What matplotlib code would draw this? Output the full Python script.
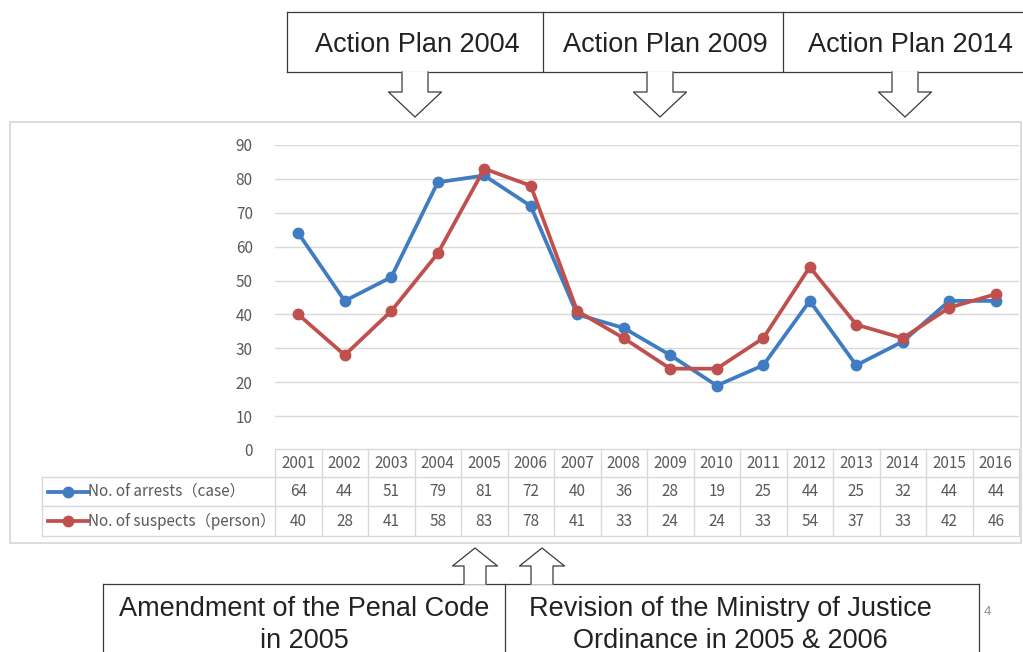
import matplotlib
matplotlib.use("Agg")
import matplotlib.pyplot as plt
from matplotlib.patches import Rectangle
from matplotlib.lines import Line2D

# ---- data ----
YEARS = [str(y) for y in range(2001, 2017)]
ARRESTS = [64, 44, 51, 79, 81, 72, 40, 36, 28, 19, 25, 44, 25, 32, 44, 44]
SUSPECTS = [40, 28, 41, 58, 83, 78, 41, 33, 24, 24, 33, 54, 37, 33, 42, 46]
SERIES_LABELS = ["No. of arrests（case）", "No. of suspects（person）"]
Y_TICKS = [0, 10, 20, 30, 40, 50, 60, 70, 80, 90]
TOP_LABELS = ["Action Plan 2004", "Action Plan 2009", "Action Plan 2014"]
BOTTOM_LABELS = ["Amendment of the Penal Code\nin 2005",
                 "Revision of the Ministry of Justice\nOrdinance in 2005 & 2006"]
PAGE_NO = "4"

BLUE = "#3f7cc1"
RED = "#c0504d"
GRID = "#d9d9d9"
TXT = "#595959"
EDGE = "#3a3a3a"
CHART_FONT = ["Noto Sans CJK JP", "DejaVu Sans"]
BOX_FONT = "Liberation Sans"
FS = 11

W, H = 1023, 652
fig = plt.figure(figsize=(W / 100, H / 100), dpi=100)

# pixel-space overlay for panel, table, callout boxes
ov = fig.add_axes([0, 0, 1, 1], zorder=0)
ov.set_xlim(0, W)
ov.set_ylim(H, 0)
ov.axis("off")

# plot area
PX0, PX1 = 275, 1019
PY_TOP, PY_ZERO = 145, 450
ax = fig.add_axes([PX0 / W, 1 - PY_ZERO / H, (PX1 - PX0) / W, (PY_ZERO - PY_TOP) / H],
                  zorder=1)
ax.patch.set_alpha(0)

n = len(YEARS)
xs = list(range(n))
ax.set_xlim(-0.5, n - 0.5)
ax.set_ylim(0, 90)
ax.set_yticks(Y_TICKS)
ax.set_yticklabels([str(t) for t in Y_TICKS], fontsize=FS, color=TXT,
                   family=CHART_FONT)
ax.tick_params(axis="y", length=0, pad=16)
ax.set_xticks([])
for s in ax.spines.values():
    s.set_visible(False)
for t in Y_TICKS:
    ax.axhline(t, color=GRID, lw=1.0, zorder=0)

ax.plot(xs, ARRESTS, color=BLUE, lw=2.7, marker="o", ms=7.5, zorder=3,
        solid_capstyle="round")
ax.plot(xs, SUSPECTS, color=RED, lw=2.7, marker="o", ms=7.5, zorder=4,
        solid_capstyle="round")

# chart panel border
ov.add_patch(Rectangle((10, 122), 1011, 421, fill=False, ec="#d6d6d6", lw=1.2))

# data table under the plot
col_w = (PX1 - PX0) / n
row_y = [449, 477, 506, 536]
TBL_L = 42
for y in row_y:
    x0 = PX0 if y == row_y[0] else TBL_L
    ov.plot([x0, PX1], [y, y], color=GRID, lw=1.0)
for i in range(n + 1):
    xv = PX0 + i * col_w
    ov.plot([xv, xv], [row_y[0], row_y[-1]], color=GRID, lw=1.0)
ov.plot([TBL_L, TBL_L], [row_y[1], row_y[-1]], color=GRID, lw=1.0)

for i, yr in enumerate(YEARS):
    cx = PX0 + (i + 0.5) * col_w
    ov.text(cx, (row_y[0] + row_y[1]) / 2, yr, ha="center", va="center",
            fontsize=FS, color=TXT, family=CHART_FONT)
    ov.text(cx, (row_y[1] + row_y[2]) / 2, str(ARRESTS[i]), ha="center",
            va="center", fontsize=FS, color=TXT, family=CHART_FONT)
    ov.text(cx, (row_y[2] + row_y[3]) / 2, str(SUSPECTS[i]), ha="center",
            va="center", fontsize=FS, color=TXT, family=CHART_FONT)

for r, (lab, col) in enumerate(zip(SERIES_LABELS, [BLUE, RED])):
    yc = (row_y[r + 1] + row_y[r + 2]) / 2
    ov.add_line(Line2D([48, 88], [yc, yc], color=col, lw=2.7))
    ov.plot([68], [yc], marker="o", ms=7.5, color=col)
    ov.text(88, yc, lab, ha="left", va="center", fontsize=FS, color=TXT,
            family=CHART_FONT)

# top callouts: boxes with down arrows
TOP_Y0, TOP_Y1 = 12, 72
top_edges = [287, 543, 783, 1030]
ov.plot([top_edges[0], top_edges[-1]], [TOP_Y0, TOP_Y0], color=EDGE, lw=0.9)
ov.plot([top_edges[0], top_edges[-1]], [TOP_Y1, TOP_Y1], color=EDGE, lw=0.9)
for xe in top_edges[:-1]:
    ov.plot([xe, xe], [TOP_Y0, TOP_Y1], color=EDGE, lw=0.9)
for i, lab in enumerate(TOP_LABELS):
    cx = (top_edges[i] + top_edges[i + 1]) / 2
    if i == 2:
        cx = 908
    ov.text(cx + 2, 45, lab, ha="center", va="center", fontsize=19.5,
            family=BOX_FONT, color="#222222")

for cx in [415, 660, 905]:
    px = [cx - 13, cx - 13, cx - 26.5, cx, cx + 26.5, cx + 13, cx + 13]
    py = [TOP_Y1, 92, 92, 117, 92, 92, TOP_Y1]
    ov.fill(px, py, color="white", zorder=2)
    ov.plot(px, py, color=EDGE, lw=0.9, zorder=3)

# bottom callouts: boxes with up arrows
BOT_Y0, BOT_Y1 = 584, 670
bot_edges = [103, 505, 979]
ov.plot([bot_edges[0], bot_edges[-1]], [BOT_Y0, BOT_Y0], color=EDGE, lw=0.9)
for xe in bot_edges:
    ov.plot([xe, xe], [BOT_Y0, BOT_Y1], color=EDGE, lw=0.9)
for cx, lab in zip([304, 730], BOTTOM_LABELS):
    ov.text(cx, 625, lab, ha="center", va="center", fontsize=19.5,
            family=BOX_FONT, color="#222222", linespacing=1.25)

for cx in [475, 542]:
    px = [cx - 11, cx - 11, cx - 22.5, cx, cx + 22.5, cx + 11, cx + 11]
    py = [BOT_Y0, 566, 566, 548, 566, 566, BOT_Y0]
    ov.fill(px, py, color="white", zorder=2)
    ov.plot(px, py, color=EDGE, lw=0.9, zorder=3)

ov.text(987, 612, PAGE_NO, ha="center", va="center", fontsize=9.5,
        color="#8c8c8c", family=BOX_FONT)

fig.savefig("out.png", dpi=100)
